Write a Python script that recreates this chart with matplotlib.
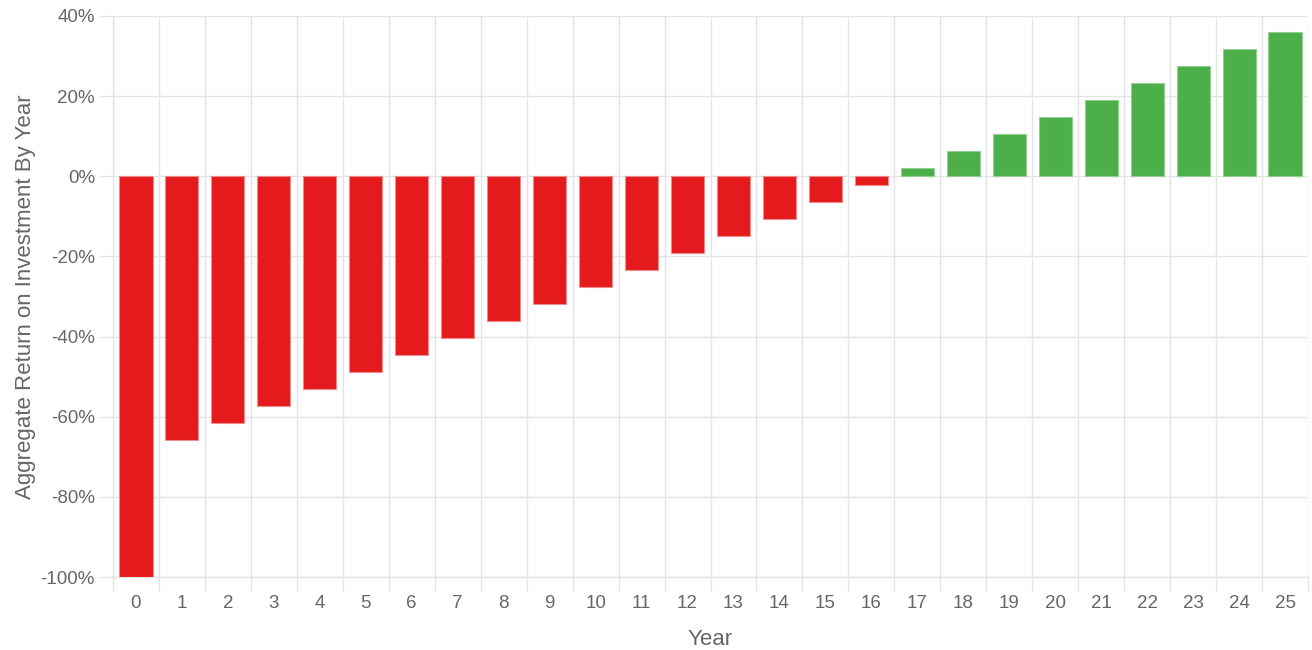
import matplotlib.pyplot as plt
import numpy as np
from matplotlib.ticker import FuncFormatter, FixedLocator

plt.rcParams['font.family'] = ['Liberation Sans', 'DejaVu Sans']

# data
years = list(range(26))
returns = [-100.0, -65.8, -61.6, -57.4, -53.2, -48.9, -44.7, -40.4, -36.2, -31.9,
           -27.7, -23.5, -19.2, -15.0, -10.7, -6.5, -2.2, 2.0, 6.2, 10.5,
           14.7, 19.0, 23.2, 27.5, 31.7, 35.9]

red = '#E41A1C'
green = '#4DAF4A'
colors = [red if v < 0 else green for v in returns]
edges = ['#F08A8B' if v < 0 else '#92CF90' for v in returns]

fig = plt.figure(figsize=(13.12, 6.5), dpi=100)
ax = fig.add_axes([113 / 1312, 1 - 577 / 650, 1195 / 1312, 561 / 650])

ax.bar(years, returns, width=0.72, color=colors, edgecolor=edges, linewidth=0.8, zorder=3)

ax.set_xlim(-0.5, 25.5)
ax.set_ylim(-100, 40)
ax.set_yticks(np.arange(-100, 41, 20))
ax.yaxis.set_major_formatter(FuncFormatter(lambda v, p: f'{v:.0f}%'))

# category boundaries as grid/tick lines, labels at centres
ax.xaxis.set_major_locator(FixedLocator(np.arange(-0.5, 26, 1)))
ax.xaxis.set_minor_locator(FixedLocator(years))
ax.set_xticklabels([])
ax.set_xticklabels([str(y) for y in years], minor=True)

grid_c = '#e4e4e4'
ax.grid(True, which='major', color=grid_c, linewidth=1, zorder=0)
ax.tick_params(axis='x', which='major', length=10, color=grid_c, width=1)
ax.tick_params(axis='x', which='minor', length=0, pad=13, labelsize=13.5, labelcolor='#666666')
ax.tick_params(axis='y', length=10, color=grid_c, width=1, pad=3, labelsize=13.5, labelcolor='#666666')

for s in ['top', 'right']:
    ax.spines[s].set_visible(False)
for s in ['left', 'bottom']:
    ax.spines[s].set_color(grid_c)
    ax.spines[s].set_linewidth(1)

ax.set_xlabel('Year', fontsize=16, color='#666666', labelpad=12)
ax.set_ylabel('Aggregate Return on Investment By Year', fontsize=16, color='#666666', labelpad=3)

fig.savefig('out.png', dpi=100)
